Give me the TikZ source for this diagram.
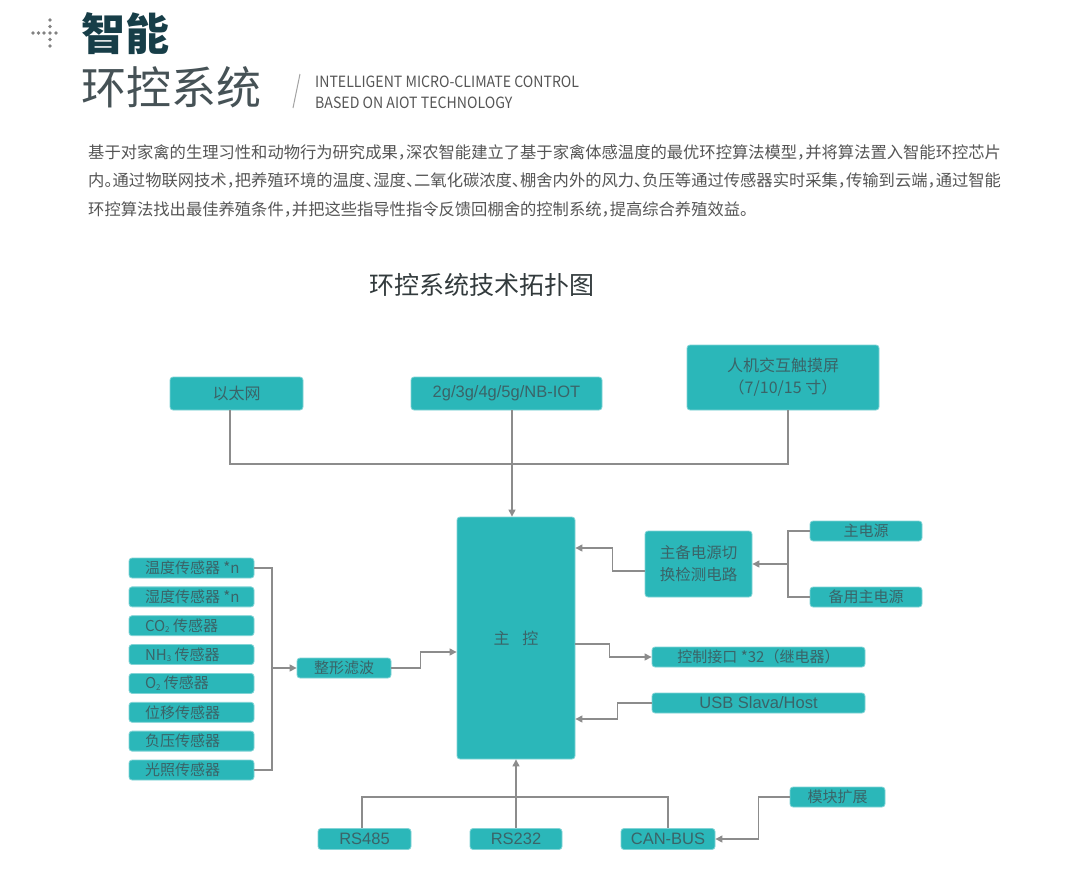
\documentclass[tikz,border=0pt]{standalone}
\usepackage{fontspec}
\usepackage{tikz}
\usetikzlibrary{arrows.meta}
\setmainfont{Noto Sans CJK SC}
\newfontfamily\latfont{Liberation Sans}
\newfontfamily\enfont{Noto Sans CJK SC}[FakeStretch=0.91]
\definecolor{boxteal}{RGB}{43,183,185}
\definecolor{boxglow}{RGB}{130,212,214}
\definecolor{boxtext}{RGB}{58,100,104}
\definecolor{linegray}{RGB}{140,140,140}
\definecolor{dotgray}{RGB}{130,130,130}
\definecolor{headteal}{RGB}{23,62,72}
\definecolor{subgray}{RGB}{70,82,86}
\definecolor{bodygray}{RGB}{85,85,85}
\definecolor{titlegray}{RGB}{50,58,60}
\newcommand\hp[1]{\makebox[0.5em][l]{#1}}
\newcommand\sub[1]{\raisebox{-1.5pt}{\fontsize{8}{8}\selectfont #1}}

\begin{document}
\begin{tikzpicture}[x=1pt, y=-1pt,
  box/.style={fill=boxteal, draw=boxglow, line width=0.8pt, rounded corners=3pt, inner sep=0pt,
    text=boxtext, font=\fontsize{15}{18}\selectfont, align=center},
  wh/.style 2 args={minimum width=#1pt, minimum height=#2pt},
  lat/.style={font=\latfont\fontsize{16.5}{19}\selectfont},
  sensor/.style={box, minimum width=125pt, minimum height=20pt},
  textline/.style={anchor=west, inner sep=0pt, text=bodygray, font=\fontsize{16.3}{20}\selectfont},
  link/.style={draw=linegray, line width=1.1pt},
  arrow/.style={link, -{Triangle[length=7pt,width=7pt]}}]
\fill[white] (0,0) rectangle (1080,889);
\useasboundingbox (0,0) rectangle (1080,889);

\foreach \y in {20,26.5,...,46}
    \fill[dotgray] (50,\y) circle (1.9);
\foreach \x in {33,38.5,44,56}
    \fill[dotgray] (\x,33) circle (1.9);
\node[anchor=west, inner sep=0pt, text=headteal, font=\fontsize{44}{50}\selectfont\bfseries] (brand) at (81,34) {智能};
\node[anchor=west, inner sep=0pt, text=subgray, font=\fontsize{45}{50}\selectfont] (sysname) at (81,87) {环控系统};
\draw[linegray!80, line width=1pt] (300,74) -- (293,108);
\node[anchor=west, inner sep=0pt, text=bodygray, font=\enfont\fontsize{15.5}{18}\selectfont] (en1) at (315,82) {INTELLIGENT MICRO-CLIMATE CONTROL};
\node[anchor=west, inner sep=0pt, text=bodygray, font=\enfont\fontsize{15.5}{18}\selectfont] (en2) at (315,103) {BASED ON AIOT TECHNOLOGY};

\node[textline] (par1) at (88,152) {基于对家禽的生理习性和动物行为研究成果\hp{，}深农智能建立了基于家禽体感温度的最优环控算法模型\hp{，}并将算法置入智能环控芯片};
\node[textline] (par2) at (88,180) {内\hp{。}通过物联网技术\hp{，}把养殖环境的温度\hp{、}湿度\hp{、}二氧化碳浓度\hp{、}棚舍内外的风力\hp{、}负压等通过传感器实时采集\hp{，}传输到云端\hp{，}通过智能};
\node[textline] (par3) at (88,209) {环控算法找出最佳养殖条件\hp{，}并把这些指导性指令反馈回棚舍的控制系统\hp{，}提高综合养殖效益。};

\node[text=titlegray, font=\fontsize{25}{30}\selectfont] (title) at (482,285) {环控系统技术拓扑图};

\node[box, wh={133}{33}, font=\fontsize{16}{19}\selectfont] (eth) at (236.5,393.5) {以太网};
\node[box, wh={191}{33}, lat] (net) at (506.5,393.5) {2g/3g/4g/5g/NB-IOT};
\node[box, wh={192}{65}, font=\fontsize{16}{22}\selectfont] (hmi) at (783,377.5) {人机交互触摸屏\\（7/10/15 寸）};

\node[box, wh={118}{242}, font=\fontsize{16}{19}\selectfont] (main) at (516,638) {主\hspace{13pt}控};
\node[box, wh={107}{66}, font=\fontsize{15.5}{22}\selectfont] (sw) at (698.5,564) {主备电源切\\换检测电路};
\node[box, wh={112}{20}] (pm) at (866,531) {主电源};
\node[box, wh={112}{20}] (pb) at (866,597) {备用主电源};
\node[box, wh={213}{20}] (relay) at (758.5,657) {控制接口 *32（继电器）};
\node[box, wh={213}{20}, lat] (usb) at (758.5,703) {USB Slava/Host};

\foreach \name [count=\i] in {温度传感器 *n, 湿度传感器 *n, CO\sub{2} 传感器, NH\sub{3} 传感器,
    O\sub{2} 传感器, 位移传感器, 负压传感器, 光照传感器}
    \node[sensor] (s\i) at (191.5,{568+28.857*(\i-1)}) {\makebox[93pt][l]{\name}};
\node[box, wh={94}{20}] (filter) at (344,668) {整形滤波};

\node[box, wh={93}{21}, lat] (rs485) at (364.5,839) {RS485};
\node[box, wh={92}{21}, lat] (rs232) at (516,839) {RS232};
\node[box, wh={94}{21}, lat] (can) at (668,839) {CAN-BUS};
\node[box, wh={95}{20}] (mod) at (837.5,797) {模块扩展};

\coordinate (topjoin) at (512,464);
\draw[link] ([xshift=-6.5pt]eth.south) |- (topjoin) -| ([xshift=5pt]hmi.south);
\draw[arrow] (topjoin |- net.south) -- (topjoin |- main.north);

\coordinate (sensjoin) at (272,668);
\draw[link] (s1.east) -| (sensjoin) |- (s8.east);
\draw[arrow] (sensjoin) -- (filter.west);
\draw[arrow] (filter.east) -- ++(29,0) |- (main.west |- 0,652);

\coordinate (pwrjoin) at (788,564);
\draw[link] (pm.west) -| (pwrjoin) |- (pb.west);
\draw[arrow] (pwrjoin) -- (sw.east);
\draw[arrow] ([yshift=-7pt]sw.west) -- ++(-32,0) |- (main.east |- 0,548);
\draw[arrow] (main.east |- 0,644) -- ++(34,0) |- (relay.west);
\draw[arrow] (usb.west) -- ++(-34,0) |- (main.east |- 0,719);

\coordinate (busjoin) at (516,797);
\draw[link] ([xshift=-2.5pt]rs485.north) |- (busjoin) -| (can.north);
\draw[arrow] (rs232.north) -- (main.south);
\draw[arrow] (mod.west) -- ++(-31,0) |- (can.east);
\end{tikzpicture}
\end{document}
